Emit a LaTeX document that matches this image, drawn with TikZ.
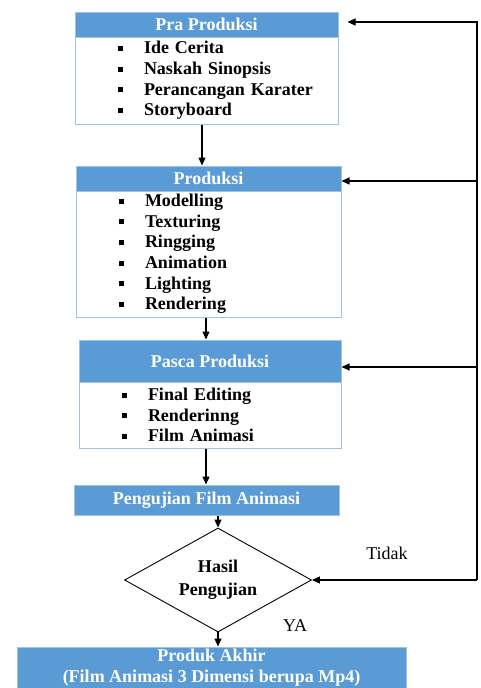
\documentclass[tikz,border=0pt]{standalone}
\usepackage{fontspec}
\setmainfont{Liberation Serif}
\usetikzlibrary{shapes.geometric, arrows.meta}

\definecolor{hdblue}{HTML}{5B9BD5}
\definecolor{lnblue}{HTML}{9DC3E6}
\newcommand{\sqbul}{\rule[3pt]{5pt}{5pt}}
\newcommand{\itm}[1]{\hspace*{39pt}\sqbul\hspace{21pt}#1}

\tikzset{
	head/.style={rectangle, fill=hdblue, draw=lnblue, line width=1pt, text=white, inner sep=0pt, align=center, font=\bfseries\fontsize{18}{21}\selectfont},
	body/.style={rectangle, draw=lnblue, line width=1pt, inner xsep=4pt, inner ysep=0pt, align=left, font=\bfseries\fontsize{18}{20.6}\selectfont},
	cek/.style={diamond, draw, line width=0.9pt, shape aspect=1.8, inner sep=0pt, align=center, font=\bfseries\fontsize{18}{23}\selectfont},
	lbl/.style={font=\fontsize{18}{21}\selectfont},
	arr/.style={-{Triangle[length=8pt,width=7pt]}, line width=1.2pt}
}

\begin{document}
\begin{tikzpicture}[x=1pt, y=-1pt]
	\useasboundingbox (0,0) rectangle (480,688);

	\node[head, minimum width=263pt, minimum height=25pt] (prahead) at (206.5,24.5) {Pra Produksi};
	\node[body, text width=255pt, minimum height=87pt] (prabody) at (206.5,80.5)
		{\itm{Ide Cerita}\\ \itm{Naskah Sinopsis}\\ \itm{Perancangan Karater}\\ \itm{Storyboard}};

	\node[head, minimum width=265pt, minimum height=25pt] (prodhead) at (208.5,178.5) {Produksi};
	\node[body, text width=257pt, minimum height=126pt] (prodbody) at (208.5,254)
		{\itm{Modelling}\\ \itm{Texturing}\\ \itm{Ringging}\\ \itm{Animation}\\ \itm{Lighting}\\ \itm{Rendering}};

	\node[head, minimum width=262pt, minimum height=42pt] (pashead) at (210,361) {Pasca Produksi};
	\node[body, text width=254pt, minimum height=66pt] (pasbody) at (210,415)
		{\itm{Final Editing}\\ \itm{Renderinng}\\ \itm{Film Animasi}};

	\node[head, minimum width=265pt, minimum height=30pt] (uji) at (206.5,500) {Pengujian Film Animasi};
	\node[cek, minimum width=187pt, minimum height=104pt] (hasil) at (218,580) {Hasil\\Pengujian};
	\node[head, minimum width=389pt, minimum height=41pt] (akhir) at (211.5,667.5)
		{Produk Akhir\\(Film Animasi 3 Dimensi berupa Mp4)};

	\node[lbl] (tidak) at (387,553) {Tidak};
	\node[lbl] (ya) at (295,626) {YA};

	\coordinate (r0) at (477,580);
	\coordinate (r1) at (477,367);
	\coordinate (r2) at (477,181);
	\coordinate (r3) at (477,22);

	\draw[arr] ([xshift=-4.5pt]prabody.south) -- ([xshift=-4.5pt]prabody.south |- prodhead.north);
	\draw[arr] ([xshift=-2.5pt]prodbody.south) -- ([xshift=-2.5pt]prodbody.south |- pashead.north);
	\draw[arr] ([xshift=-4pt]pasbody.south) -- ([xshift=-4pt]pasbody.south |- uji.north);
	\draw[arr] (hasil.north |- uji.south) -- (hasil.north);
	\draw[arr] (hasil.south) -- (hasil.south |- akhir.north);

	\draw[arr] (r0) -- (hasil.east);
	\draw[arr, shorten >=9pt] (r0) -- (r3) -- (r3 -| prahead.east);
	\draw[arr] (r2) -- (r2 -| prodhead.east);
	\draw[arr] (r1) -- (r1 -| pashead.east);
\end{tikzpicture}
\end{document}
